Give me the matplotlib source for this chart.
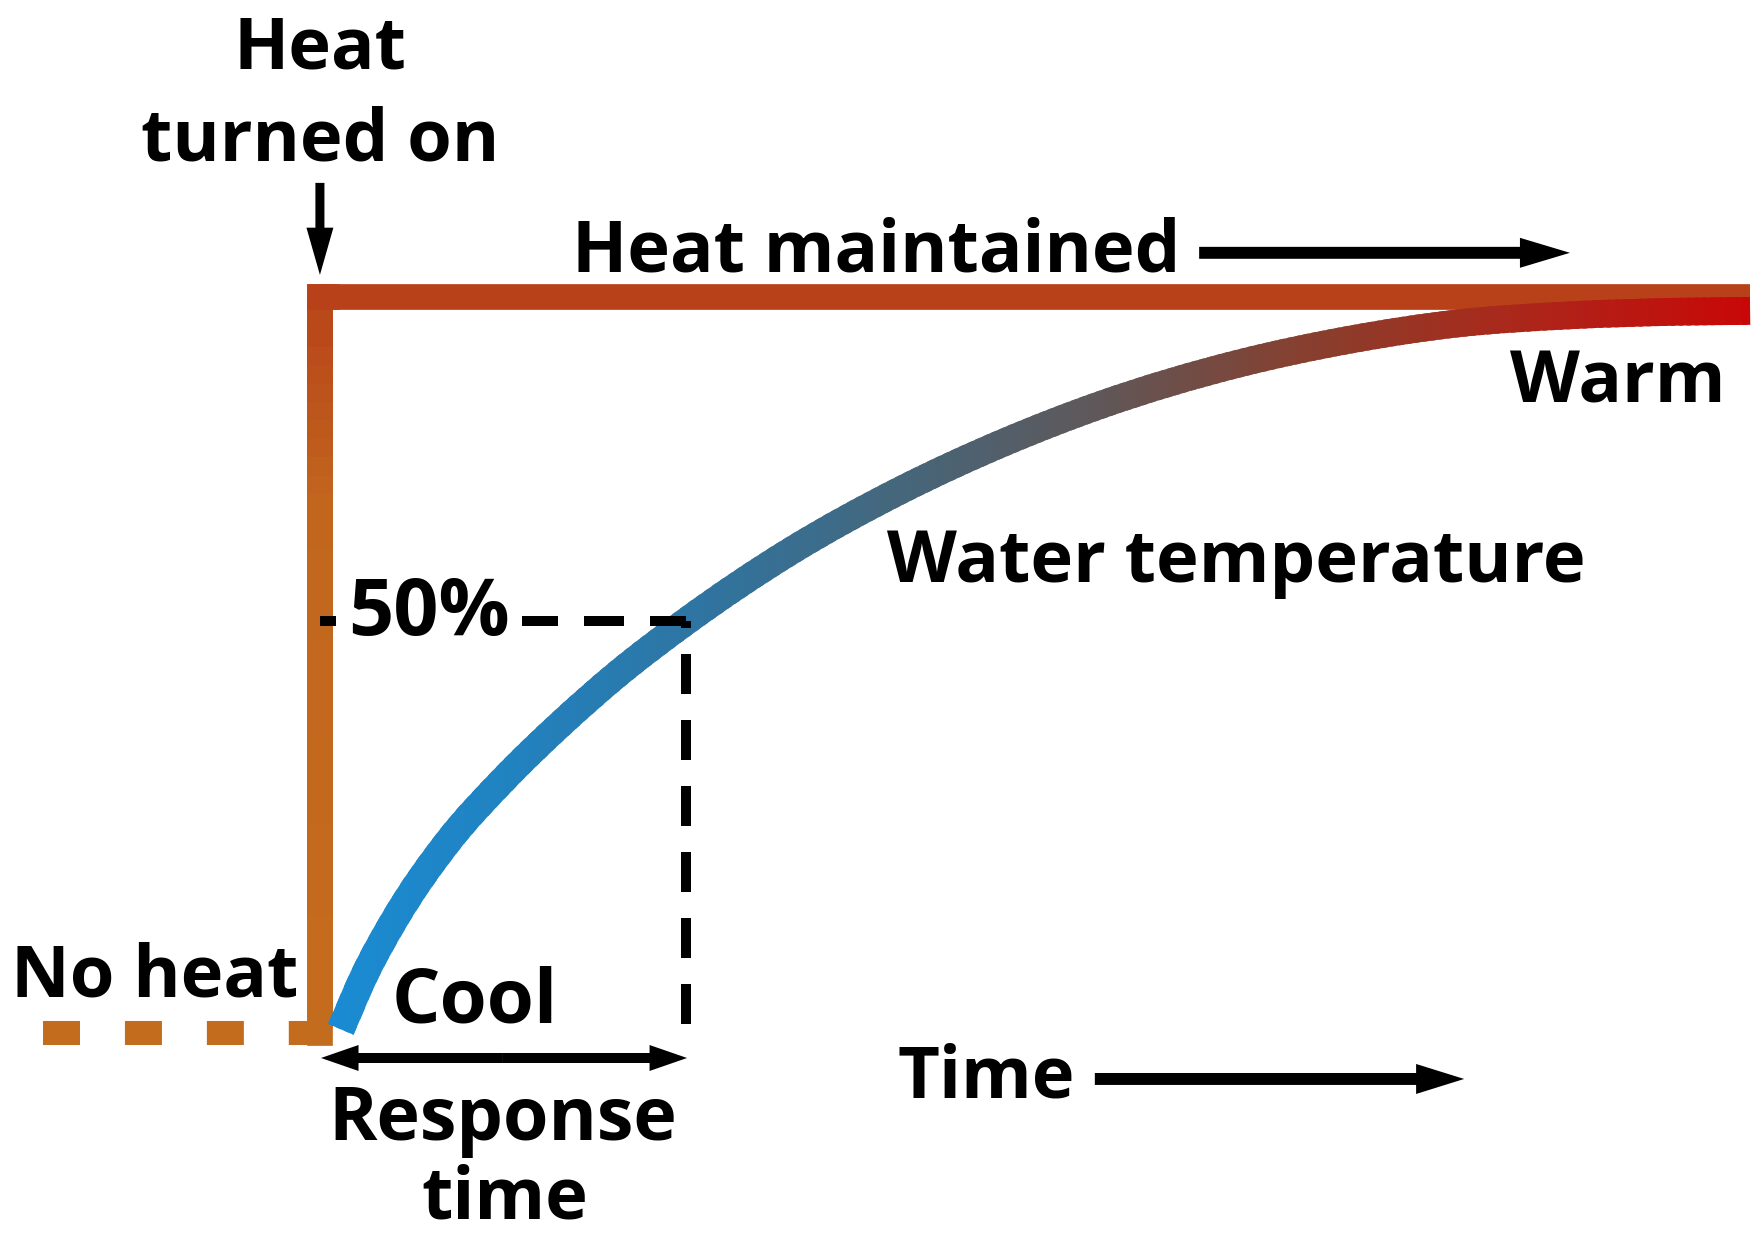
import numpy as np
import matplotlib
matplotlib.use('Agg')
import matplotlib.pyplot as plt
from matplotlib.collections import LineCollection
from matplotlib.colors import LinearSegmentedColormap
from matplotlib.patches import PathPatch, Rectangle
from matplotlib.path import Path

plt.rcParams['font.family'] = ['Open Sans', 'DejaVu Sans']
plt.rcParams['font.weight'] = 'bold'

# time in "response times" (heat turned on at 0), level as fraction of warm
time_before = [-0.757, 0.0]
heat_before = [0.0, 0.0]
time_heat = [0.0, 0.0, 3.907]
heat_level = [0.0, 1.0, 1.0]

water_t = [0.057, 0.120, 0.205, 0.350, 0.503, 0.656, 0.809, 1.000, 1.284,
           1.585, 1.872, 2.131, 2.514, 2.814, 3.107, 3.413, 3.719, 3.907]
water_v = [0.005, 0.077, 0.155, 0.260, 0.345, 0.419, 0.486, 0.559, 0.654,
           0.737, 0.803, 0.853, 0.910, 0.942, 0.964, 0.975, 0.980, 0.981]

half_level = 0.56
response_time = 1.0

# colours
orange = '#c46c1e'
heat_top = '#b9411a'
water_cmap = LinearSegmentedColormap.from_list('water', [
    (0.00, '#1a8bd2'), (0.12, '#2182c0'), (0.25, '#2e75a2'), (0.40, '#46667a'),
    (0.54, '#605758'), (0.68, '#86402f'), (0.82, '#a82a1c'), (1.00, '#c80808')])
heat_cmap = LinearSegmentedColormap.from_list('heat', [
    (0.0, orange), (0.75, '#c2661e'), (1.0, '#b9461a')])

fig = plt.figure(figsize=(17.57, 12.35), dpi=100)
ax = fig.add_axes([0, 0, 1, 1])
ax.set_xlim(-0.874, 3.926)
ax.set_ylim(-0.2745, 1.4035)
ax.axis('off')

LW = 18.5     # heat line, points
LW_W = 20     # water curve, points

# no heat (dashed)
ax.plot(time_before, heat_before, color=orange, lw=17.3,
        dashes=(1.54, 1.87), zorder=2)

# heat turned on: vertical part, orange turning red near the top
pts = np.column_stack([time_heat[:2], heat_level[:2]])
fr = np.linspace(0, 1, 41)
dense = pts[0] + (pts[1] - pts[0]) * fr[:, None]
segs = [dense[i:i + 3] for i in range(len(dense) - 2)]
cols = [heat_cmap(s[1][1]) for s in segs]
ax.add_collection(LineCollection(segs, colors=cols, linewidths=LW,
                                 capstyle='projecting', zorder=3))
# heat maintained
ax.plot(time_heat[1:], heat_level[1:], color=heat_top, lw=LW,
        solid_capstyle='butt', zorder=3)
ax.plot([time_heat[1], time_heat[1] + 0.02], heat_level[1:], color=heat_top,
        lw=LW, solid_capstyle='projecting', zorder=3)

# water temperature: smooth (cubic Hermite) stroke through the read points
x = np.array(water_t)
y = np.array(water_v)
h = np.diff(x)
d = np.diff(y) / h
m = np.empty_like(x)
m[0], m[-1] = d[0], d[-1]
m[1:-1] = (d[:-1] * h[1:] + d[1:] * h[:-1]) / (h[:-1] + h[1:])
verts, codes = [(x[0], y[0])], [Path.MOVETO]
for i in range(len(x) - 1):
    verts += [(x[i] + h[i] / 3, y[i] + m[i] * h[i] / 3),
              (x[i + 1] - h[i] / 3, y[i + 1] - m[i + 1] * h[i] / 3),
              (x[i + 1], y[i + 1])]
    codes += [Path.CURVE4] * 3
water_path = Path(verts, codes)

# coloured blue -> red by narrow vertical strips
t0, t1 = water_t[0], water_t[-1]
edges = np.linspace(0.0, 3.93, 181)
for a, b in zip(edges[:-1], edges[1:]):
    c = water_cmap(np.clip(((a + b) / 2 - t0) / (t1 - t0), 0, 1))
    patch = PathPatch(water_path, fill=False, ec=c, lw=LW_W,
                      capstyle='butt', joinstyle='round', zorder=5)
    ax.add_patch(patch)
    patch.set_clip_path(Rectangle((a, -1), (b - a) * 1.6, 3,
                                  transform=ax.transData))

# 50 % guide lines
ax.plot([0, response_time], [half_level, half_level], color='black', lw=7.2,
        dashes=(4.0, 2.6), zorder=6)
ax.plot([response_time, response_time], [half_level, 0.0], color='black',
        lw=7.2, linestyle=(3.3, (4.0, 2.6)), zorder=6)

fs = 52
ax.text(0.077, 0.541, '50%', fontsize=57, ha='left', va='baseline', zorder=7,
        bbox=dict(boxstyle='square,pad=0.15', fc='white', ec='none'))

# labels
ax.text(0.0, 1.311, 'Heat', fontsize=fs, ha='center', va='baseline')
ax.text(0.0, 1.186, 'turned on', fontsize=fs, ha='center', va='baseline')
ax.text(0.689, 1.034, 'Heat maintained', fontsize=fs, ha='left', va='baseline')
ax.text(3.839, 0.857, 'Warm', fontsize=fs, ha='right', va='baseline')
ax.text(1.549, 0.613, 'Water temperature', fontsize=fs, ha='left',
        va='baseline')
ax.text(-0.845, 0.049, 'No heat', fontsize=fs, ha='left', va='baseline')
ax.text(0.197, 0.014, 'Cool', fontsize=55, ha='left', va='baseline')
ax.text(1.579, -0.088, 'Time', fontsize=fs, ha='left', va='baseline')
ax.text(0.50, -0.145, 'Response', fontsize=53, ha='center', va='baseline')
ax.text(0.505, -0.252, 'time', fontsize=fs, ha='center', va='baseline')


def arrow(tail, tip, hl, hw, tw):
    ax.annotate('', xy=tip, xytext=tail,
                arrowprops=dict(arrowstyle=f'simple,head_length={hl},'
                                f'head_width={hw},tail_width={tw}',
                                mutation_scale=1, fc='black', ec='none', lw=0,
                                shrinkA=0, shrinkB=0), zorder=8)


arrow((0.0, 1.155), (0.0, 1.030), 34, 19.4, 6.5)
arrow((2.402, 1.060), (3.415, 1.060), 36, 21.6, 8.6)
arrow((2.117, -0.0625), (3.126, -0.0625), 34.6, 21.6, 8.6)
mid = response_time / 2
arrow((mid, -0.034), (0.003, -0.034), 27, 18.7, 7.2)
arrow((mid, -0.034), (1.003, -0.034), 27, 18.7, 7.2)

fig.savefig('out.png', dpi=100, facecolor='white')
